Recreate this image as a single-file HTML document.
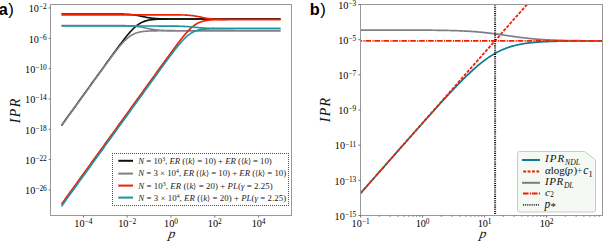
<!DOCTYPE html>
<html><head><meta charset="utf-8"><style>
html,body{margin:0;padding:0;background:#fff;}
body{width:603px;height:241px;overflow:hidden;position:relative;}
svg{position:absolute;left:0;top:0;}
.serif{font-family:"Liberation Serif",serif;}
.sans{font-family:"Liberation Sans",sans-serif;}
</style></head><body>
<svg width="603" height="241" viewBox="0 0 603 241">
<defs>
<clipPath id="ca"><rect x="50.5" y="4.5" width="241.0" height="211.0"/></clipPath>
<clipPath id="cb"><rect x="360.5" y="4.5" width="242.0" height="211.0"/></clipPath>
</defs>
<g class="sans" font-weight="bold" font-size="16.3" fill="#000">
<text x="-1.2" y="15">a<tspan font-weight="normal" font-size="16.8" dx="0.5">)</tspan></text>
<text x="309.8" y="14.8">b<tspan font-weight="normal" font-size="16.8" dx="0.5">)</tspan></text>
</g>
<g fill="none" stroke-width="1.65" stroke-linecap="butt" stroke-linejoin="round" clip-path="url(#ca)">
<path d="M61.50,13.99 L62.23,13.99 L62.96,13.99 L63.70,13.99 L64.43,13.99 L65.16,13.99 L65.89,13.99 L66.63,13.99 L67.36,13.99 L68.09,13.99 L68.82,13.99 L69.56,13.99 L70.29,13.99 L71.02,13.99 L71.75,13.99 L72.49,13.99 L73.22,13.99 L73.95,13.99 L74.68,13.99 L75.42,13.99 L76.15,13.99 L76.88,13.99 L77.61,13.99 L78.35,13.99 L79.08,13.99 L79.81,13.99 L80.54,13.99 L81.28,13.99 L82.01,13.99 L82.74,13.99 L83.47,13.99 L84.21,13.99 L84.94,13.99 L85.67,13.99 L86.40,13.99 L87.14,13.99 L87.87,13.99 L88.60,13.99 L89.33,13.99 L90.07,13.99 L90.80,13.99 L91.53,13.99 L92.26,13.99 L92.99,13.99 L93.73,13.99 L94.46,13.99 L95.19,13.99 L95.92,13.99 L96.66,13.99 L97.39,13.99 L98.12,13.99 L98.85,13.99 L99.59,13.99 L100.32,13.99 L101.05,13.99 L101.78,13.99 L102.52,13.99 L103.25,13.99 L103.98,13.99 L104.71,13.99 L105.45,14.00 L106.18,14.00 L106.91,14.00 L107.64,14.00 L108.38,14.00 L109.11,14.00 L109.84,14.00 L110.57,14.01 L111.31,14.01 L112.04,14.01 L112.77,14.02 L113.50,14.02 L114.24,14.02 L114.97,14.03 L115.70,14.03 L116.43,14.04 L117.17,14.05 L117.90,14.06 L118.63,14.07 L119.36,14.08 L120.10,14.09 L120.83,14.10 L121.56,14.12 L122.29,14.13 L123.03,14.15 L123.76,14.18 L124.49,14.20 L125.22,14.23 L125.95,14.26 L126.69,14.30 L127.42,14.34 L128.15,14.38 L128.88,14.43 L129.62,14.48 L130.35,14.54 L131.08,14.61 L131.81,14.68 L132.55,14.76 L133.28,14.85 L134.01,14.95 L134.74,15.05 L135.48,15.16 L136.21,15.27 L136.94,15.40 L137.67,15.53 L138.41,15.67 L139.14,15.81 L139.87,15.96 L140.60,16.11 L141.34,16.26 L142.07,16.42 L142.80,16.57 L143.53,16.73 L144.27,16.88 L145.00,17.04 L145.73,17.18 L146.46,17.32 L147.20,17.46 L147.93,17.59 L148.66,17.72 L149.39,17.83 L150.13,17.94 L150.86,18.04 L151.59,18.14 L152.32,18.22 L153.06,18.30 L153.79,18.38 L154.52,18.44 L155.25,18.50 L155.98,18.56 L156.72,18.60 L157.45,18.65 L158.18,18.69 L158.91,18.72 L159.65,18.75 L160.38,18.78 L161.11,18.81 L161.84,18.83 L162.58,18.85 L163.31,18.86 L164.04,18.88 L164.77,18.89 L165.51,18.90 L166.24,18.91 L166.97,18.92 L167.70,18.93 L168.44,18.94 L169.17,18.95 L169.90,18.95 L170.63,18.96 L171.37,18.96 L172.10,18.96 L172.83,18.97 L173.56,18.97 L174.30,18.97 L175.03,18.97 L175.76,18.98 L176.49,18.98 L177.23,18.98 L177.96,18.98 L178.69,18.98 L179.42,18.98 L180.16,18.98 L180.89,18.99 L181.62,18.99 L182.35,18.99 L183.09,18.99 L183.82,18.99 L184.55,18.99 L185.28,18.99 L186.02,18.99 L186.75,18.99 L187.48,18.99 L188.21,18.99 L188.94,18.99 L189.68,18.99 L190.41,18.99 L191.14,18.99 L191.87,18.99 L192.61,18.99 L193.34,18.99 L194.07,18.99 L194.80,18.99 L195.54,18.99 L196.27,18.99 L197.00,18.99 L197.73,18.99 L198.47,18.99 L199.20,18.99 L199.93,18.99 L200.66,18.99 L201.40,18.99 L202.13,18.99 L202.86,18.99 L203.59,18.99 L204.33,18.99 L205.06,18.99 L205.79,18.99 L206.52,18.99 L207.26,18.99 L207.99,18.99 L208.72,18.99 L209.45,18.99 L210.19,18.99 L210.92,18.99 L211.65,18.99 L212.38,18.99 L213.12,18.99 L213.85,18.99 L214.58,18.99 L215.31,18.99 L216.05,18.99 L216.78,18.99 L217.51,18.99 L218.24,18.99 L218.97,18.99 L219.71,18.99 L220.44,18.99 L221.17,18.99 L221.90,18.99 L222.64,18.99 L223.37,18.99 L224.10,18.99 L224.83,18.99 L225.57,18.99 L226.30,18.99 L227.03,18.99 L227.76,18.99 L228.50,18.99 L229.23,18.99 L229.96,18.99 L230.69,18.99 L231.43,18.99 L232.16,18.99 L232.89,18.99 L233.62,18.99 L234.36,18.99 L235.09,18.99 L235.82,18.99 L236.55,18.99 L237.29,18.99 L238.02,18.99 L238.75,18.99 L239.48,18.99 L240.22,18.99 L240.95,18.99 L241.68,18.99 L242.41,18.99 L243.15,18.99 L243.88,18.99 L244.61,18.99 L245.34,18.99 L246.08,18.99 L246.81,18.99 L247.54,18.99 L248.27,18.99 L249.01,18.99 L249.74,18.99 L250.47,18.99 L251.20,18.99 L251.93,18.99 L252.67,18.99 L253.40,18.99 L254.13,18.99 L254.86,18.99 L255.60,18.99 L256.33,18.99 L257.06,18.99 L257.79,18.99 L258.53,18.99 L259.26,18.99 L259.99,18.99 L260.72,18.99 L261.46,18.99 L262.19,18.99 L262.92,18.99 L263.65,18.99 L264.39,18.99 L265.12,18.99 L265.85,18.99 L266.58,18.99 L267.32,18.99 L268.05,18.99 L268.78,18.99 L269.51,18.99 L270.25,18.99 L270.98,18.99 L271.71,18.99 L272.44,18.99 L273.18,18.99 L273.91,18.99 L274.64,18.99 L275.37,18.99 L276.11,18.99 L276.84,18.99 L277.57,18.99 L278.30,18.99 L279.04,18.99 L279.77,18.99 L280.50,18.99" stroke="#111111"/>
<path d="M61.50,125.41 L62.23,124.40 L62.96,123.39 L63.70,122.37 L64.43,121.36 L65.16,120.34 L65.89,119.33 L66.63,118.32 L67.36,117.30 L68.09,116.29 L68.82,115.27 L69.56,114.26 L70.29,113.25 L71.02,112.23 L71.75,111.22 L72.49,110.20 L73.22,109.19 L73.95,108.18 L74.68,107.16 L75.42,106.15 L76.15,105.13 L76.88,104.12 L77.61,103.11 L78.35,102.09 L79.08,101.08 L79.81,100.06 L80.54,99.05 L81.28,98.04 L82.01,97.02 L82.74,96.01 L83.47,94.99 L84.21,93.98 L84.94,92.97 L85.67,91.95 L86.40,90.94 L87.14,89.92 L87.87,88.91 L88.60,87.90 L89.33,86.88 L90.07,85.87 L90.80,84.85 L91.53,83.84 L92.26,82.83 L92.99,81.81 L93.73,80.80 L94.46,79.79 L95.19,78.77 L95.92,77.76 L96.66,76.74 L97.39,75.73 L98.12,74.72 L98.85,73.71 L99.59,72.69 L100.32,71.68 L101.05,70.67 L101.78,69.65 L102.52,68.64 L103.25,67.63 L103.98,66.62 L104.71,65.61 L105.45,64.59 L106.18,63.58 L106.91,62.57 L107.64,61.56 L108.38,60.55 L109.11,59.55 L109.84,58.54 L110.57,57.53 L111.31,56.52 L112.04,55.52 L112.77,54.52 L113.50,53.51 L114.24,52.51 L114.97,51.51 L115.70,50.52 L116.43,49.52 L117.17,48.53 L117.90,47.54 L118.63,46.55 L119.36,45.57 L120.10,44.60 L120.83,43.62 L121.56,42.65 L122.29,41.69 L123.03,40.74 L123.76,39.79 L124.49,38.85 L125.22,37.93 L125.95,37.01 L126.69,36.10 L127.42,35.21 L128.15,34.33 L128.88,33.47 L129.62,32.62 L130.35,31.80 L131.08,30.99 L131.81,30.21 L132.55,29.45 L133.28,28.71 L134.01,28.01 L134.74,27.33 L135.48,26.68 L136.21,26.06 L136.94,25.47 L137.67,24.92 L138.41,24.40 L139.14,23.91 L139.87,23.45 L140.60,23.03 L141.34,22.64 L142.07,22.27 L142.80,21.94 L143.53,21.64 L144.27,21.36 L145.00,21.11 L145.73,20.88 L146.46,20.67 L147.20,20.49 L147.93,20.32 L148.66,20.17 L149.39,20.04 L150.13,19.92 L150.86,19.81 L151.59,19.72 L152.32,19.63 L153.06,19.56 L153.79,19.49 L154.52,19.43 L155.25,19.38 L155.98,19.33 L156.72,19.29 L157.45,19.26 L158.18,19.22 L158.91,19.20 L159.65,19.17 L160.38,19.15 L161.11,19.13 L161.84,19.11 L162.58,19.10 L163.31,19.09 L164.04,19.07 L164.77,19.06 L165.51,19.06 L166.24,19.05 L166.97,19.04 L167.70,19.03 L168.44,19.03 L169.17,19.02 L169.90,19.02 L170.63,19.02 L171.37,19.01 L172.10,19.01 L172.83,19.01 L173.56,19.01 L174.30,19.00 L175.03,19.00 L175.76,19.00 L176.49,19.00 L177.23,19.00 L177.96,19.00 L178.69,19.00 L179.42,19.00 L180.16,19.00 L180.89,19.00 L181.62,18.99 L182.35,18.99 L183.09,18.99 L183.82,18.99 L184.55,18.99 L185.28,18.99 L186.02,18.99 L186.75,18.99 L187.48,18.99 L188.21,18.99 L188.94,18.99 L189.68,18.99 L190.41,18.99 L191.14,18.99 L191.87,18.99 L192.61,18.99 L193.34,18.99 L194.07,18.99 L194.80,18.99 L195.54,18.99 L196.27,18.99 L197.00,18.99 L197.73,18.99 L198.47,18.99 L199.20,18.99 L199.93,18.99 L200.66,18.99 L201.40,18.99 L202.13,18.99 L202.86,18.99 L203.59,18.99 L204.33,18.99 L205.06,18.99 L205.79,18.99 L206.52,18.99 L207.26,18.99 L207.99,18.99 L208.72,18.99 L209.45,18.99 L210.19,18.99 L210.92,18.99 L211.65,18.99 L212.38,18.99 L213.12,18.99 L213.85,18.99 L214.58,18.99 L215.31,18.99 L216.05,18.99 L216.78,18.99 L217.51,18.99 L218.24,18.99 L218.97,18.99 L219.71,18.99 L220.44,18.99 L221.17,18.99 L221.90,18.99 L222.64,18.99 L223.37,18.99 L224.10,18.99 L224.83,18.99 L225.57,18.99 L226.30,18.99 L227.03,18.99 L227.76,18.99 L228.50,18.99 L229.23,18.99 L229.96,18.99 L230.69,18.99 L231.43,18.99 L232.16,18.99 L232.89,18.99 L233.62,18.99 L234.36,18.99 L235.09,18.99 L235.82,18.99 L236.55,18.99 L237.29,18.99 L238.02,18.99 L238.75,18.99 L239.48,18.99 L240.22,18.99 L240.95,18.99 L241.68,18.99 L242.41,18.99 L243.15,18.99 L243.88,18.99 L244.61,18.99 L245.34,18.99 L246.08,18.99 L246.81,18.99 L247.54,18.99 L248.27,18.99 L249.01,18.99 L249.74,18.99 L250.47,18.99 L251.20,18.99 L251.93,18.99 L252.67,18.99 L253.40,18.99 L254.13,18.99 L254.86,18.99 L255.60,18.99 L256.33,18.99 L257.06,18.99 L257.79,18.99 L258.53,18.99 L259.26,18.99 L259.99,18.99 L260.72,18.99 L261.46,18.99 L262.19,18.99 L262.92,18.99 L263.65,18.99 L264.39,18.99 L265.12,18.99 L265.85,18.99 L266.58,18.99 L267.32,18.99 L268.05,18.99 L268.78,18.99 L269.51,18.99 L270.25,18.99 L270.98,18.99 L271.71,18.99 L272.44,18.99 L273.18,18.99 L273.91,18.99 L274.64,18.99 L275.37,18.99 L276.11,18.99 L276.84,18.99 L277.57,18.99 L278.30,18.99 L279.04,18.99 L279.77,18.99 L280.50,18.99" stroke="#111111"/>
<path d="M61.50,25.51 L62.23,25.51 L62.96,25.51 L63.70,25.51 L64.43,25.51 L65.16,25.51 L65.89,25.51 L66.63,25.51 L67.36,25.51 L68.09,25.51 L68.82,25.51 L69.56,25.51 L70.29,25.51 L71.02,25.51 L71.75,25.51 L72.49,25.51 L73.22,25.51 L73.95,25.51 L74.68,25.51 L75.42,25.51 L76.15,25.51 L76.88,25.51 L77.61,25.51 L78.35,25.51 L79.08,25.51 L79.81,25.51 L80.54,25.51 L81.28,25.51 L82.01,25.51 L82.74,25.51 L83.47,25.51 L84.21,25.51 L84.94,25.51 L85.67,25.51 L86.40,25.51 L87.14,25.51 L87.87,25.51 L88.60,25.51 L89.33,25.51 L90.07,25.51 L90.80,25.51 L91.53,25.51 L92.26,25.51 L92.99,25.51 L93.73,25.51 L94.46,25.51 L95.19,25.51 L95.92,25.51 L96.66,25.51 L97.39,25.51 L98.12,25.51 L98.85,25.51 L99.59,25.51 L100.32,25.51 L101.05,25.51 L101.78,25.51 L102.52,25.51 L103.25,25.51 L103.98,25.51 L104.71,25.52 L105.45,25.52 L106.18,25.52 L106.91,25.52 L107.64,25.52 L108.38,25.52 L109.11,25.52 L109.84,25.52 L110.57,25.52 L111.31,25.53 L112.04,25.53 L112.77,25.53 L113.50,25.53 L114.24,25.54 L114.97,25.54 L115.70,25.54 L116.43,25.55 L117.17,25.55 L117.90,25.56 L118.63,25.57 L119.36,25.57 L120.10,25.58 L120.83,25.59 L121.56,25.60 L122.29,25.61 L123.03,25.63 L123.76,25.64 L124.49,25.66 L125.22,25.67 L125.95,25.70 L126.69,25.72 L127.42,25.74 L128.15,25.77 L128.88,25.81 L129.62,25.84 L130.35,25.88 L131.08,25.93 L131.81,25.97 L132.55,26.03 L133.28,26.09 L134.01,26.15 L134.74,26.22 L135.48,26.30 L136.21,26.39 L136.94,26.48 L137.67,26.57 L138.41,26.68 L139.14,26.79 L139.87,26.91 L140.60,27.03 L141.34,27.16 L142.07,27.30 L142.80,27.44 L143.53,27.58 L144.27,27.73 L145.00,27.88 L145.73,28.04 L146.46,28.19 L147.20,28.34 L147.93,28.49 L148.66,28.64 L149.39,28.79 L150.13,28.93 L150.86,29.07 L151.59,29.20 L152.32,29.32 L153.06,29.44 L153.79,29.55 L154.52,29.66 L155.25,29.76 L155.98,29.85 L156.72,29.94 L157.45,30.01 L158.18,30.09 L158.91,30.15 L159.65,30.21 L160.38,30.27 L161.11,30.32 L161.84,30.36 L162.58,30.40 L163.31,30.44 L164.04,30.47 L164.77,30.50 L165.51,30.53 L166.24,30.55 L166.97,30.57 L167.70,30.59 L168.44,30.61 L169.17,30.62 L169.90,30.64 L170.63,30.65 L171.37,30.66 L172.10,30.67 L172.83,30.68 L173.56,30.68 L174.30,30.69 L175.03,30.70 L175.76,30.70 L176.49,30.71 L177.23,30.71 L177.96,30.71 L178.69,30.72 L179.42,30.72 L180.16,30.72 L180.89,30.72 L181.62,30.73 L182.35,30.73 L183.09,30.73 L183.82,30.73 L184.55,30.73 L185.28,30.73 L186.02,30.73 L186.75,30.73 L187.48,30.73 L188.21,30.74 L188.94,30.74 L189.68,30.74 L190.41,30.74 L191.14,30.74 L191.87,30.74 L192.61,30.74 L193.34,30.74 L194.07,30.74 L194.80,30.74 L195.54,30.74 L196.27,30.74 L197.00,30.74 L197.73,30.74 L198.47,30.74 L199.20,30.74 L199.93,30.74 L200.66,30.74 L201.40,30.74 L202.13,30.74 L202.86,30.74 L203.59,30.74 L204.33,30.74 L205.06,30.74 L205.79,30.74 L206.52,30.74 L207.26,30.74 L207.99,30.74 L208.72,30.74 L209.45,30.74 L210.19,30.74 L210.92,30.74 L211.65,30.74 L212.38,30.74 L213.12,30.74 L213.85,30.74 L214.58,30.74 L215.31,30.74 L216.05,30.74 L216.78,30.74 L217.51,30.74 L218.24,30.74 L218.97,30.74 L219.71,30.74 L220.44,30.74 L221.17,30.74 L221.90,30.74 L222.64,30.74 L223.37,30.74 L224.10,30.74 L224.83,30.74 L225.57,30.74 L226.30,30.74 L227.03,30.74 L227.76,30.74 L228.50,30.74 L229.23,30.74 L229.96,30.74 L230.69,30.74 L231.43,30.74 L232.16,30.74 L232.89,30.74 L233.62,30.74 L234.36,30.74 L235.09,30.74 L235.82,30.74 L236.55,30.74 L237.29,30.74 L238.02,30.74 L238.75,30.74 L239.48,30.74 L240.22,30.74 L240.95,30.74 L241.68,30.74 L242.41,30.74 L243.15,30.74 L243.88,30.74 L244.61,30.74 L245.34,30.74 L246.08,30.74 L246.81,30.74 L247.54,30.74 L248.27,30.74 L249.01,30.74 L249.74,30.74 L250.47,30.74 L251.20,30.74 L251.93,30.74 L252.67,30.74 L253.40,30.74 L254.13,30.74 L254.86,30.74 L255.60,30.74 L256.33,30.74 L257.06,30.74 L257.79,30.74 L258.53,30.74 L259.26,30.74 L259.99,30.74 L260.72,30.74 L261.46,30.74 L262.19,30.74 L262.92,30.74 L263.65,30.74 L264.39,30.74 L265.12,30.74 L265.85,30.74 L266.58,30.74 L267.32,30.74 L268.05,30.74 L268.78,30.74 L269.51,30.74 L270.25,30.74 L270.98,30.74 L271.71,30.74 L272.44,30.74 L273.18,30.74 L273.91,30.74 L274.64,30.74 L275.37,30.74 L276.11,30.74 L276.84,30.74 L277.57,30.74 L278.30,30.74 L279.04,30.74 L279.77,30.74 L280.50,30.74" stroke="#848088"/>
<path d="M61.50,125.72 L62.23,124.70 L62.96,123.69 L63.70,122.68 L64.43,121.66 L65.16,120.65 L65.89,119.63 L66.63,118.62 L67.36,117.61 L68.09,116.59 L68.82,115.58 L69.56,114.56 L70.29,113.55 L71.02,112.54 L71.75,111.52 L72.49,110.51 L73.22,109.49 L73.95,108.48 L74.68,107.46 L75.42,106.45 L76.15,105.44 L76.88,104.42 L77.61,103.41 L78.35,102.40 L79.08,101.38 L79.81,100.37 L80.54,99.35 L81.28,98.34 L82.01,97.33 L82.74,96.31 L83.47,95.30 L84.21,94.28 L84.94,93.27 L85.67,92.26 L86.40,91.24 L87.14,90.23 L87.87,89.22 L88.60,88.20 L89.33,87.19 L90.07,86.18 L90.80,85.16 L91.53,84.15 L92.26,83.14 L92.99,82.12 L93.73,81.11 L94.46,80.10 L95.19,79.09 L95.92,78.08 L96.66,77.06 L97.39,76.05 L98.12,75.04 L98.85,74.03 L99.59,73.02 L100.32,72.01 L101.05,71.01 L101.78,70.00 L102.52,68.99 L103.25,67.98 L103.98,66.98 L104.71,65.98 L105.45,64.97 L106.18,63.97 L106.91,62.98 L107.64,61.98 L108.38,60.99 L109.11,59.99 L109.84,59.01 L110.57,58.02 L111.31,57.04 L112.04,56.06 L112.77,55.09 L113.50,54.13 L114.24,53.17 L114.97,52.22 L115.70,51.27 L116.43,50.34 L117.17,49.41 L117.90,48.49 L118.63,47.59 L119.36,46.70 L120.10,45.83 L120.83,44.97 L121.56,44.13 L122.29,43.31 L123.03,42.51 L123.76,41.74 L124.49,40.98 L125.22,40.26 L125.95,39.56 L126.69,38.89 L127.42,38.25 L128.15,37.64 L128.88,37.06 L129.62,36.52 L130.35,36.00 L131.08,35.52 L131.81,35.08 L132.55,34.66 L133.28,34.28 L134.01,33.92 L134.74,33.60 L135.48,33.30 L136.21,33.03 L136.94,32.79 L137.67,32.57 L138.41,32.37 L139.14,32.19 L139.87,32.02 L140.60,31.88 L141.34,31.75 L142.07,31.63 L142.80,31.53 L143.53,31.44 L144.27,31.36 L145.00,31.28 L145.73,31.22 L146.46,31.16 L147.20,31.11 L147.93,31.07 L148.66,31.03 L149.39,31.00 L150.13,30.96 L150.86,30.94 L151.59,30.91 L152.32,30.89 L153.06,30.87 L153.79,30.86 L154.52,30.84 L155.25,30.83 L155.98,30.82 L156.72,30.81 L157.45,30.80 L158.18,30.79 L158.91,30.79 L159.65,30.78 L160.38,30.78 L161.11,30.77 L161.84,30.77 L162.58,30.77 L163.31,30.76 L164.04,30.76 L164.77,30.76 L165.51,30.76 L166.24,30.75 L166.97,30.75 L167.70,30.75 L168.44,30.75 L169.17,30.75 L169.90,30.75 L170.63,30.75 L171.37,30.75 L172.10,30.74 L172.83,30.74 L173.56,30.74 L174.30,30.74 L175.03,30.74 L175.76,30.74 L176.49,30.74 L177.23,30.74 L177.96,30.74 L178.69,30.74 L179.42,30.74 L180.16,30.74 L180.89,30.74 L181.62,30.74 L182.35,30.74 L183.09,30.74 L183.82,30.74 L184.55,30.74 L185.28,30.74 L186.02,30.74 L186.75,30.74 L187.48,30.74 L188.21,30.74 L188.94,30.74 L189.68,30.74 L190.41,30.74 L191.14,30.74 L191.87,30.74 L192.61,30.74 L193.34,30.74 L194.07,30.74 L194.80,30.74 L195.54,30.74 L196.27,30.74 L197.00,30.74 L197.73,30.74 L198.47,30.74 L199.20,30.74 L199.93,30.74 L200.66,30.74 L201.40,30.74 L202.13,30.74 L202.86,30.74 L203.59,30.74 L204.33,30.74 L205.06,30.74 L205.79,30.74 L206.52,30.74 L207.26,30.74 L207.99,30.74 L208.72,30.74 L209.45,30.74 L210.19,30.74 L210.92,30.74 L211.65,30.74 L212.38,30.74 L213.12,30.74 L213.85,30.74 L214.58,30.74 L215.31,30.74 L216.05,30.74 L216.78,30.74 L217.51,30.74 L218.24,30.74 L218.97,30.74 L219.71,30.74 L220.44,30.74 L221.17,30.74 L221.90,30.74 L222.64,30.74 L223.37,30.74 L224.10,30.74 L224.83,30.74 L225.57,30.74 L226.30,30.74 L227.03,30.74 L227.76,30.74 L228.50,30.74 L229.23,30.74 L229.96,30.74 L230.69,30.74 L231.43,30.74 L232.16,30.74 L232.89,30.74 L233.62,30.74 L234.36,30.74 L235.09,30.74 L235.82,30.74 L236.55,30.74 L237.29,30.74 L238.02,30.74 L238.75,30.74 L239.48,30.74 L240.22,30.74 L240.95,30.74 L241.68,30.74 L242.41,30.74 L243.15,30.74 L243.88,30.74 L244.61,30.74 L245.34,30.74 L246.08,30.74 L246.81,30.74 L247.54,30.74 L248.27,30.74 L249.01,30.74 L249.74,30.74 L250.47,30.74 L251.20,30.74 L251.93,30.74 L252.67,30.74 L253.40,30.74 L254.13,30.74 L254.86,30.74 L255.60,30.74 L256.33,30.74 L257.06,30.74 L257.79,30.74 L258.53,30.74 L259.26,30.74 L259.99,30.74 L260.72,30.74 L261.46,30.74 L262.19,30.74 L262.92,30.74 L263.65,30.74 L264.39,30.74 L265.12,30.74 L265.85,30.74 L266.58,30.74 L267.32,30.74 L268.05,30.74 L268.78,30.74 L269.51,30.74 L270.25,30.74 L270.98,30.74 L271.71,30.74 L272.44,30.74 L273.18,30.74 L273.91,30.74 L274.64,30.74 L275.37,30.74 L276.11,30.74 L276.84,30.74 L277.57,30.74 L278.30,30.74 L279.04,30.74 L279.77,30.74 L280.50,30.74" stroke="#848088"/>
<path d="M61.50,14.82 L62.23,14.82 L62.96,14.82 L63.70,14.82 L64.43,14.82 L65.16,14.82 L65.89,14.82 L66.63,14.82 L67.36,14.82 L68.09,14.82 L68.82,14.82 L69.56,14.82 L70.29,14.82 L71.02,14.82 L71.75,14.82 L72.49,14.82 L73.22,14.82 L73.95,14.82 L74.68,14.82 L75.42,14.82 L76.15,14.82 L76.88,14.82 L77.61,14.82 L78.35,14.82 L79.08,14.82 L79.81,14.82 L80.54,14.82 L81.28,14.82 L82.01,14.82 L82.74,14.82 L83.47,14.82 L84.21,14.82 L84.94,14.82 L85.67,14.82 L86.40,14.82 L87.14,14.82 L87.87,14.82 L88.60,14.82 L89.33,14.82 L90.07,14.82 L90.80,14.82 L91.53,14.82 L92.26,14.82 L92.99,14.82 L93.73,14.82 L94.46,14.82 L95.19,14.82 L95.92,14.82 L96.66,14.82 L97.39,14.82 L98.12,14.82 L98.85,14.82 L99.59,14.82 L100.32,14.82 L101.05,14.82 L101.78,14.82 L102.52,14.82 L103.25,14.82 L103.98,14.82 L104.71,14.82 L105.45,14.82 L106.18,14.82 L106.91,14.82 L107.64,14.82 L108.38,14.82 L109.11,14.82 L109.84,14.82 L110.57,14.82 L111.31,14.82 L112.04,14.82 L112.77,14.82 L113.50,14.82 L114.24,14.82 L114.97,14.82 L115.70,14.82 L116.43,14.82 L117.17,14.82 L117.90,14.82 L118.63,14.82 L119.36,14.82 L120.10,14.82 L120.83,14.82 L121.56,14.82 L122.29,14.82 L123.03,14.82 L123.76,14.82 L124.49,14.82 L125.22,14.82 L125.95,14.82 L126.69,14.82 L127.42,14.82 L128.15,14.82 L128.88,14.82 L129.62,14.82 L130.35,14.82 L131.08,14.82 L131.81,14.82 L132.55,14.82 L133.28,14.82 L134.01,14.82 L134.74,14.82 L135.48,14.82 L136.21,14.82 L136.94,14.82 L137.67,14.82 L138.41,14.82 L139.14,14.82 L139.87,14.82 L140.60,14.82 L141.34,14.82 L142.07,14.82 L142.80,14.82 L143.53,14.82 L144.27,14.82 L145.00,14.82 L145.73,14.82 L146.46,14.82 L147.20,14.82 L147.93,14.82 L148.66,14.82 L149.39,14.82 L150.13,14.82 L150.86,14.82 L151.59,14.82 L152.32,14.82 L153.06,14.82 L153.79,14.82 L154.52,14.82 L155.25,14.82 L155.98,14.82 L156.72,14.82 L157.45,14.82 L158.18,14.82 L158.91,14.82 L159.65,14.82 L160.38,14.82 L161.11,14.82 L161.84,14.83 L162.58,14.83 L163.31,14.83 L164.04,14.83 L164.77,14.83 L165.51,14.83 L166.24,14.83 L166.97,14.83 L167.70,14.83 L168.44,14.83 L169.17,14.83 L169.90,14.84 L170.63,14.84 L171.37,14.84 L172.10,14.84 L172.83,14.85 L173.56,14.85 L174.30,14.85 L175.03,14.86 L175.76,14.86 L176.49,14.87 L177.23,14.88 L177.96,14.89 L178.69,14.89 L179.42,14.91 L180.16,14.92 L180.89,14.93 L181.62,14.95 L182.35,14.97 L183.09,14.99 L183.82,15.01 L184.55,15.04 L185.28,15.06 L186.02,15.10 L186.75,15.14 L187.48,15.18 L188.21,15.23 L188.94,15.28 L189.68,15.34 L190.41,15.41 L191.14,15.48 L191.87,15.56 L192.61,15.65 L193.34,15.75 L194.07,15.85 L194.80,15.96 L195.54,16.08 L196.27,16.21 L197.00,16.34 L197.73,16.48 L198.47,16.63 L199.20,16.78 L199.93,16.93 L200.66,17.09 L201.40,17.25 L202.13,17.40 L202.86,17.55 L203.59,17.71 L204.33,17.85 L205.06,17.99 L205.79,18.13 L206.52,18.25 L207.26,18.38 L207.99,18.49 L208.72,18.59 L209.45,18.69 L210.19,18.78 L210.92,18.86 L211.65,18.93 L212.38,19.00 L213.12,19.06 L213.85,19.11 L214.58,19.16 L215.31,19.20 L216.05,19.24 L216.78,19.28 L217.51,19.31 L218.24,19.33 L218.97,19.36 L219.71,19.38 L220.44,19.40 L221.17,19.41 L221.90,19.43 L222.64,19.44 L223.37,19.45 L224.10,19.46 L224.83,19.47 L225.57,19.47 L226.30,19.48 L227.03,19.48 L227.76,19.49 L228.50,19.49 L229.23,19.50 L229.96,19.50 L230.69,19.50 L231.43,19.51 L232.16,19.51 L232.89,19.51 L233.62,19.51 L234.36,19.51 L235.09,19.51 L235.82,19.51 L236.55,19.52 L237.29,19.52 L238.02,19.52 L238.75,19.52 L239.48,19.52 L240.22,19.52 L240.95,19.52 L241.68,19.52 L242.41,19.52 L243.15,19.52 L243.88,19.52 L244.61,19.52 L245.34,19.52 L246.08,19.52 L246.81,19.52 L247.54,19.52 L248.27,19.52 L249.01,19.52 L249.74,19.52 L250.47,19.52 L251.20,19.52 L251.93,19.52 L252.67,19.52 L253.40,19.52 L254.13,19.52 L254.86,19.52 L255.60,19.52 L256.33,19.52 L257.06,19.52 L257.79,19.52 L258.53,19.52 L259.26,19.52 L259.99,19.52 L260.72,19.52 L261.46,19.52 L262.19,19.52 L262.92,19.52 L263.65,19.52 L264.39,19.52 L265.12,19.52 L265.85,19.52 L266.58,19.52 L267.32,19.52 L268.05,19.52 L268.78,19.52 L269.51,19.52 L270.25,19.52 L270.98,19.52 L271.71,19.52 L272.44,19.52 L273.18,19.52 L273.91,19.52 L274.64,19.52 L275.37,19.52 L276.11,19.52 L276.84,19.52 L277.57,19.52 L278.30,19.52 L279.04,19.52 L279.77,19.52 L280.50,19.52" stroke="#f02000"/>
<path d="M61.50,204.17 L62.23,203.16 L62.96,202.14 L63.70,201.13 L64.43,200.11 L65.16,199.10 L65.89,198.09 L66.63,197.07 L67.36,196.06 L68.09,195.04 L68.82,194.03 L69.56,193.02 L70.29,192.00 L71.02,190.99 L71.75,189.97 L72.49,188.96 L73.22,187.95 L73.95,186.93 L74.68,185.92 L75.42,184.90 L76.15,183.89 L76.88,182.88 L77.61,181.86 L78.35,180.85 L79.08,179.83 L79.81,178.82 L80.54,177.81 L81.28,176.79 L82.01,175.78 L82.74,174.76 L83.47,173.75 L84.21,172.73 L84.94,171.72 L85.67,170.71 L86.40,169.69 L87.14,168.68 L87.87,167.66 L88.60,166.65 L89.33,165.64 L90.07,164.62 L90.80,163.61 L91.53,162.59 L92.26,161.58 L92.99,160.57 L93.73,159.55 L94.46,158.54 L95.19,157.52 L95.92,156.51 L96.66,155.50 L97.39,154.48 L98.12,153.47 L98.85,152.45 L99.59,151.44 L100.32,150.43 L101.05,149.41 L101.78,148.40 L102.52,147.38 L103.25,146.37 L103.98,145.36 L104.71,144.34 L105.45,143.33 L106.18,142.31 L106.91,141.30 L107.64,140.29 L108.38,139.27 L109.11,138.26 L109.84,137.24 L110.57,136.23 L111.31,135.22 L112.04,134.20 L112.77,133.19 L113.50,132.17 L114.24,131.16 L114.97,130.14 L115.70,129.13 L116.43,128.12 L117.17,127.10 L117.90,126.09 L118.63,125.07 L119.36,124.06 L120.10,123.05 L120.83,122.03 L121.56,121.02 L122.29,120.00 L123.03,118.99 L123.76,117.98 L124.49,116.96 L125.22,115.95 L125.95,114.93 L126.69,113.92 L127.42,112.91 L128.15,111.89 L128.88,110.88 L129.62,109.86 L130.35,108.85 L131.08,107.84 L131.81,106.82 L132.55,105.81 L133.28,104.79 L134.01,103.78 L134.74,102.77 L135.48,101.75 L136.21,100.74 L136.94,99.72 L137.67,98.71 L138.41,97.70 L139.14,96.68 L139.87,95.67 L140.60,94.65 L141.34,93.64 L142.07,92.63 L142.80,91.61 L143.53,90.60 L144.27,89.58 L145.00,88.57 L145.73,87.56 L146.46,86.54 L147.20,85.53 L147.93,84.51 L148.66,83.50 L149.39,82.49 L150.13,81.47 L150.86,80.46 L151.59,79.45 L152.32,78.43 L153.06,77.42 L153.79,76.41 L154.52,75.39 L155.25,74.38 L155.98,73.37 L156.72,72.35 L157.45,71.34 L158.18,70.33 L158.91,69.32 L159.65,68.30 L160.38,67.29 L161.11,66.28 L161.84,65.27 L162.58,64.26 L163.31,63.25 L164.04,62.24 L164.77,61.23 L165.51,60.22 L166.24,59.21 L166.97,58.20 L167.70,57.20 L168.44,56.19 L169.17,55.19 L169.90,54.19 L170.63,53.19 L171.37,52.19 L172.10,51.19 L172.83,50.19 L173.56,49.20 L174.30,48.21 L175.03,47.23 L175.76,46.24 L176.49,45.26 L177.23,44.29 L177.96,43.32 L178.69,42.36 L179.42,41.40 L180.16,40.46 L180.89,39.52 L181.62,38.59 L182.35,37.67 L183.09,36.76 L183.82,35.86 L184.55,34.98 L185.28,34.12 L186.02,33.27 L186.75,32.44 L187.48,31.63 L188.21,30.85 L188.94,30.08 L189.68,29.35 L190.41,28.64 L191.14,27.95 L191.87,27.30 L192.61,26.68 L193.34,26.09 L194.07,25.53 L194.80,25.00 L195.54,24.51 L196.27,24.05 L197.00,23.62 L197.73,23.22 L198.47,22.85 L199.20,22.52 L199.93,22.21 L200.66,21.93 L201.40,21.67 L202.13,21.44 L202.86,21.23 L203.59,21.04 L204.33,20.87 L205.06,20.72 L205.79,20.59 L206.52,20.46 L207.26,20.35 L207.99,20.26 L208.72,20.17 L209.45,20.10 L210.19,20.03 L210.92,19.97 L211.65,19.92 L212.38,19.87 L213.12,19.83 L213.85,19.79 L214.58,19.76 L215.31,19.73 L216.05,19.71 L216.78,19.68 L217.51,19.66 L218.24,19.65 L218.97,19.63 L219.71,19.62 L220.44,19.61 L221.17,19.60 L221.90,19.59 L222.64,19.58 L223.37,19.57 L224.10,19.57 L224.83,19.56 L225.57,19.56 L226.30,19.55 L227.03,19.55 L227.76,19.55 L228.50,19.54 L229.23,19.54 L229.96,19.54 L230.69,19.54 L231.43,19.53 L232.16,19.53 L232.89,19.53 L233.62,19.53 L234.36,19.53 L235.09,19.53 L235.82,19.53 L236.55,19.53 L237.29,19.53 L238.02,19.53 L238.75,19.52 L239.48,19.52 L240.22,19.52 L240.95,19.52 L241.68,19.52 L242.41,19.52 L243.15,19.52 L243.88,19.52 L244.61,19.52 L245.34,19.52 L246.08,19.52 L246.81,19.52 L247.54,19.52 L248.27,19.52 L249.01,19.52 L249.74,19.52 L250.47,19.52 L251.20,19.52 L251.93,19.52 L252.67,19.52 L253.40,19.52 L254.13,19.52 L254.86,19.52 L255.60,19.52 L256.33,19.52 L257.06,19.52 L257.79,19.52 L258.53,19.52 L259.26,19.52 L259.99,19.52 L260.72,19.52 L261.46,19.52 L262.19,19.52 L262.92,19.52 L263.65,19.52 L264.39,19.52 L265.12,19.52 L265.85,19.52 L266.58,19.52 L267.32,19.52 L268.05,19.52 L268.78,19.52 L269.51,19.52 L270.25,19.52 L270.98,19.52 L271.71,19.52 L272.44,19.52 L273.18,19.52 L273.91,19.52 L274.64,19.52 L275.37,19.52 L276.11,19.52 L276.84,19.52 L277.57,19.52 L278.30,19.52 L279.04,19.52 L279.77,19.52 L280.50,19.52" stroke="#f02000"/>
<path d="M61.50,26.04 L62.23,26.04 L62.96,26.04 L63.70,26.04 L64.43,26.04 L65.16,26.04 L65.89,26.04 L66.63,26.04 L67.36,26.04 L68.09,26.04 L68.82,26.04 L69.56,26.04 L70.29,26.04 L71.02,26.04 L71.75,26.04 L72.49,26.04 L73.22,26.04 L73.95,26.04 L74.68,26.04 L75.42,26.04 L76.15,26.04 L76.88,26.04 L77.61,26.04 L78.35,26.04 L79.08,26.04 L79.81,26.04 L80.54,26.04 L81.28,26.04 L82.01,26.04 L82.74,26.04 L83.47,26.04 L84.21,26.04 L84.94,26.04 L85.67,26.04 L86.40,26.04 L87.14,26.04 L87.87,26.04 L88.60,26.04 L89.33,26.04 L90.07,26.04 L90.80,26.04 L91.53,26.04 L92.26,26.04 L92.99,26.04 L93.73,26.04 L94.46,26.04 L95.19,26.04 L95.92,26.04 L96.66,26.04 L97.39,26.04 L98.12,26.04 L98.85,26.04 L99.59,26.04 L100.32,26.04 L101.05,26.04 L101.78,26.04 L102.52,26.04 L103.25,26.04 L103.98,26.04 L104.71,26.04 L105.45,26.04 L106.18,26.04 L106.91,26.04 L107.64,26.04 L108.38,26.04 L109.11,26.04 L109.84,26.04 L110.57,26.04 L111.31,26.04 L112.04,26.04 L112.77,26.04 L113.50,26.04 L114.24,26.04 L114.97,26.04 L115.70,26.04 L116.43,26.04 L117.17,26.04 L117.90,26.04 L118.63,26.04 L119.36,26.04 L120.10,26.04 L120.83,26.04 L121.56,26.04 L122.29,26.04 L123.03,26.04 L123.76,26.04 L124.49,26.04 L125.22,26.04 L125.95,26.04 L126.69,26.04 L127.42,26.04 L128.15,26.04 L128.88,26.04 L129.62,26.04 L130.35,26.04 L131.08,26.04 L131.81,26.04 L132.55,26.04 L133.28,26.04 L134.01,26.04 L134.74,26.04 L135.48,26.04 L136.21,26.04 L136.94,26.04 L137.67,26.04 L138.41,26.04 L139.14,26.04 L139.87,26.04 L140.60,26.04 L141.34,26.04 L142.07,26.04 L142.80,26.04 L143.53,26.04 L144.27,26.04 L145.00,26.04 L145.73,26.04 L146.46,26.04 L147.20,26.04 L147.93,26.04 L148.66,26.04 L149.39,26.04 L150.13,26.04 L150.86,26.04 L151.59,26.04 L152.32,26.04 L153.06,26.04 L153.79,26.04 L154.52,26.04 L155.25,26.04 L155.98,26.04 L156.72,26.04 L157.45,26.04 L158.18,26.05 L158.91,26.05 L159.65,26.05 L160.38,26.05 L161.11,26.05 L161.84,26.05 L162.58,26.05 L163.31,26.05 L164.04,26.05 L164.77,26.06 L165.51,26.06 L166.24,26.06 L166.97,26.06 L167.70,26.07 L168.44,26.07 L169.17,26.07 L169.90,26.08 L170.63,26.08 L171.37,26.09 L172.10,26.09 L172.83,26.10 L173.56,26.11 L174.30,26.11 L175.03,26.12 L175.76,26.13 L176.49,26.15 L177.23,26.16 L177.96,26.17 L178.69,26.19 L179.42,26.21 L180.16,26.23 L180.89,26.25 L181.62,26.28 L182.35,26.30 L183.09,26.34 L183.82,26.37 L184.55,26.41 L185.28,26.45 L186.02,26.49 L186.75,26.54 L187.48,26.59 L188.21,26.64 L188.94,26.70 L189.68,26.76 L190.41,26.82 L191.14,26.89 L191.87,26.96 L192.61,27.03 L193.34,27.10 L194.07,27.18 L194.80,27.25 L195.54,27.33 L196.27,27.41 L197.00,27.48 L197.73,27.55 L198.47,27.63 L199.20,27.70 L199.93,27.76 L200.66,27.83 L201.40,27.89 L202.13,27.94 L202.86,28.00 L203.59,28.05 L204.33,28.10 L205.06,28.14 L205.79,28.18 L206.52,28.21 L207.26,28.25 L207.99,28.28 L208.72,28.31 L209.45,28.33 L210.19,28.35 L210.92,28.37 L211.65,28.39 L212.38,28.41 L213.12,28.42 L213.85,28.44 L214.58,28.45 L215.31,28.46 L216.05,28.47 L216.78,28.48 L217.51,28.48 L218.24,28.49 L218.97,28.50 L219.71,28.50 L220.44,28.51 L221.17,28.51 L221.90,28.51 L222.64,28.52 L223.37,28.52 L224.10,28.52 L224.83,28.52 L225.57,28.53 L226.30,28.53 L227.03,28.53 L227.76,28.53 L228.50,28.53 L229.23,28.53 L229.96,28.53 L230.69,28.54 L231.43,28.54 L232.16,28.54 L232.89,28.54 L233.62,28.54 L234.36,28.54 L235.09,28.54 L235.82,28.54 L236.55,28.54 L237.29,28.54 L238.02,28.54 L238.75,28.54 L239.48,28.54 L240.22,28.54 L240.95,28.54 L241.68,28.54 L242.41,28.54 L243.15,28.54 L243.88,28.54 L244.61,28.54 L245.34,28.54 L246.08,28.54 L246.81,28.54 L247.54,28.54 L248.27,28.54 L249.01,28.54 L249.74,28.54 L250.47,28.54 L251.20,28.54 L251.93,28.54 L252.67,28.54 L253.40,28.54 L254.13,28.54 L254.86,28.54 L255.60,28.54 L256.33,28.54 L257.06,28.54 L257.79,28.54 L258.53,28.54 L259.26,28.54 L259.99,28.54 L260.72,28.54 L261.46,28.54 L262.19,28.54 L262.92,28.54 L263.65,28.54 L264.39,28.54 L265.12,28.54 L265.85,28.54 L266.58,28.54 L267.32,28.54 L268.05,28.54 L268.78,28.54 L269.51,28.54 L270.25,28.54 L270.98,28.54 L271.71,28.54 L272.44,28.54 L273.18,28.54 L273.91,28.54 L274.64,28.54 L275.37,28.54 L276.11,28.54 L276.84,28.54 L277.57,28.54 L278.30,28.54 L279.04,28.54 L279.77,28.54 L280.50,28.54" stroke="#1a93a3"/>
<path d="M61.50,206.22 L62.23,205.20 L62.96,204.19 L63.70,203.17 L64.43,202.16 L65.16,201.15 L65.89,200.13 L66.63,199.12 L67.36,198.10 L68.09,197.09 L68.82,196.08 L69.56,195.06 L70.29,194.05 L71.02,193.03 L71.75,192.02 L72.49,191.01 L73.22,189.99 L73.95,188.98 L74.68,187.96 L75.42,186.95 L76.15,185.94 L76.88,184.92 L77.61,183.91 L78.35,182.89 L79.08,181.88 L79.81,180.87 L80.54,179.85 L81.28,178.84 L82.01,177.82 L82.74,176.81 L83.47,175.80 L84.21,174.78 L84.94,173.77 L85.67,172.75 L86.40,171.74 L87.14,170.73 L87.87,169.71 L88.60,168.70 L89.33,167.68 L90.07,166.67 L90.80,165.66 L91.53,164.64 L92.26,163.63 L92.99,162.61 L93.73,161.60 L94.46,160.58 L95.19,159.57 L95.92,158.56 L96.66,157.54 L97.39,156.53 L98.12,155.51 L98.85,154.50 L99.59,153.49 L100.32,152.47 L101.05,151.46 L101.78,150.44 L102.52,149.43 L103.25,148.42 L103.98,147.40 L104.71,146.39 L105.45,145.37 L106.18,144.36 L106.91,143.35 L107.64,142.33 L108.38,141.32 L109.11,140.30 L109.84,139.29 L110.57,138.28 L111.31,137.26 L112.04,136.25 L112.77,135.23 L113.50,134.22 L114.24,133.21 L114.97,132.19 L115.70,131.18 L116.43,130.16 L117.17,129.15 L117.90,128.14 L118.63,127.12 L119.36,126.11 L120.10,125.09 L120.83,124.08 L121.56,123.07 L122.29,122.05 L123.03,121.04 L123.76,120.02 L124.49,119.01 L125.22,118.00 L125.95,116.98 L126.69,115.97 L127.42,114.95 L128.15,113.94 L128.88,112.92 L129.62,111.91 L130.35,110.90 L131.08,109.88 L131.81,108.87 L132.55,107.85 L133.28,106.84 L134.01,105.83 L134.74,104.81 L135.48,103.80 L136.21,102.78 L136.94,101.77 L137.67,100.76 L138.41,99.74 L139.14,98.73 L139.87,97.72 L140.60,96.70 L141.34,95.69 L142.07,94.67 L142.80,93.66 L143.53,92.65 L144.27,91.63 L145.00,90.62 L145.73,89.60 L146.46,88.59 L147.20,87.58 L147.93,86.56 L148.66,85.55 L149.39,84.54 L150.13,83.52 L150.86,82.51 L151.59,81.50 L152.32,80.49 L153.06,79.47 L153.79,78.46 L154.52,77.45 L155.25,76.44 L155.98,75.42 L156.72,74.41 L157.45,73.40 L158.18,72.39 L158.91,71.38 L159.65,70.37 L160.38,69.36 L161.11,68.36 L161.84,67.35 L162.58,66.34 L163.31,65.34 L164.04,64.33 L164.77,63.33 L165.51,62.33 L166.24,61.33 L166.97,60.33 L167.70,59.34 L168.44,58.34 L169.17,57.35 L169.90,56.37 L170.63,55.38 L171.37,54.40 L172.10,53.43 L172.83,52.46 L173.56,51.50 L174.30,50.54 L175.03,49.59 L175.76,48.65 L176.49,47.72 L177.23,46.80 L177.96,45.89 L178.69,44.99 L179.42,44.11 L180.16,43.24 L180.89,42.40 L181.62,41.56 L182.35,40.75 L183.09,39.96 L183.82,39.20 L184.55,38.46 L185.28,37.74 L186.02,37.06 L186.75,36.40 L187.48,35.77 L188.21,35.18 L188.94,34.61 L189.68,34.08 L190.41,33.59 L191.14,33.12 L191.87,32.69 L192.61,32.29 L193.34,31.92 L194.07,31.58 L194.80,31.27 L195.54,30.98 L196.27,30.72 L197.00,30.49 L197.73,30.28 L198.47,30.09 L199.20,29.91 L199.93,29.76 L200.66,29.62 L201.40,29.50 L202.13,29.39 L202.86,29.29 L203.59,29.20 L204.33,29.13 L205.06,29.06 L205.79,29.00 L206.52,28.94 L207.26,28.89 L207.99,28.85 L208.72,28.82 L209.45,28.78 L210.19,28.75 L210.92,28.73 L211.65,28.71 L212.38,28.69 L213.12,28.67 L213.85,28.65 L214.58,28.64 L215.31,28.63 L216.05,28.62 L216.78,28.61 L217.51,28.60 L218.24,28.59 L218.97,28.59 L219.71,28.58 L220.44,28.58 L221.17,28.57 L221.90,28.57 L222.64,28.57 L223.37,28.56 L224.10,28.56 L224.83,28.56 L225.57,28.56 L226.30,28.55 L227.03,28.55 L227.76,28.55 L228.50,28.55 L229.23,28.55 L229.96,28.55 L230.69,28.55 L231.43,28.55 L232.16,28.55 L232.89,28.55 L233.62,28.55 L234.36,28.54 L235.09,28.54 L235.82,28.54 L236.55,28.54 L237.29,28.54 L238.02,28.54 L238.75,28.54 L239.48,28.54 L240.22,28.54 L240.95,28.54 L241.68,28.54 L242.41,28.54 L243.15,28.54 L243.88,28.54 L244.61,28.54 L245.34,28.54 L246.08,28.54 L246.81,28.54 L247.54,28.54 L248.27,28.54 L249.01,28.54 L249.74,28.54 L250.47,28.54 L251.20,28.54 L251.93,28.54 L252.67,28.54 L253.40,28.54 L254.13,28.54 L254.86,28.54 L255.60,28.54 L256.33,28.54 L257.06,28.54 L257.79,28.54 L258.53,28.54 L259.26,28.54 L259.99,28.54 L260.72,28.54 L261.46,28.54 L262.19,28.54 L262.92,28.54 L263.65,28.54 L264.39,28.54 L265.12,28.54 L265.85,28.54 L266.58,28.54 L267.32,28.54 L268.05,28.54 L268.78,28.54 L269.51,28.54 L270.25,28.54 L270.98,28.54 L271.71,28.54 L272.44,28.54 L273.18,28.54 L273.91,28.54 L274.64,28.54 L275.37,28.54 L276.11,28.54 L276.84,28.54 L277.57,28.54 L278.30,28.54 L279.04,28.54 L279.77,28.54 L280.50,28.54" stroke="#1a93a3"/>
</g>
<g fill="none" stroke-linecap="butt" stroke-linejoin="round" clip-path="url(#cb)">
<path d="M360.60,193.24 L361.43,192.30 L362.26,191.36 L363.09,190.42 L363.92,189.48 L364.75,188.54 L365.58,187.60 L366.41,186.66 L367.24,185.72 L368.06,184.77 L368.89,183.83 L369.72,182.89 L370.55,181.95 L371.38,181.01 L372.21,180.07 L373.04,179.13 L373.87,178.19 L374.70,177.25 L375.53,176.31 L376.36,175.37 L377.19,174.43 L378.02,173.49 L378.85,172.55 L379.68,171.61 L380.51,170.67 L381.34,169.73 L382.17,168.79 L382.99,167.85 L383.82,166.91 L384.65,165.97 L385.48,165.03 L386.31,164.09 L387.14,163.15 L387.97,162.21 L388.80,161.27 L389.63,160.33 L390.46,159.39 L391.29,158.45 L392.12,157.51 L392.95,156.57 L393.78,155.63 L394.61,154.69 L395.44,153.75 L396.27,152.82 L397.09,151.88 L397.92,150.94 L398.75,150.00 L399.58,149.06 L400.41,148.12 L401.24,147.18 L402.07,146.25 L402.90,145.31 L403.73,144.37 L404.56,143.43 L405.39,142.50 L406.22,141.56 L407.05,140.62 L407.88,139.68 L408.71,138.75 L409.54,137.81 L410.37,136.88 L411.20,135.94 L412.02,135.00 L412.85,134.07 L413.68,133.13 L414.51,132.20 L415.34,131.26 L416.17,130.33 L417.00,129.40 L417.83,128.46 L418.66,127.53 L419.49,126.60 L420.32,125.66 L421.15,124.73 L421.98,123.80 L422.81,122.87 L423.64,121.94 L424.47,121.01 L425.30,120.08 L426.13,119.15 L426.95,118.22 L427.78,117.30 L428.61,116.37 L429.44,115.45 L430.27,114.52 L431.10,113.60 L431.93,112.67 L432.76,111.75 L433.59,110.83 L434.42,109.91 L435.25,108.99 L436.08,108.07 L436.91,107.16 L437.74,106.24 L438.57,105.33 L439.40,104.41 L440.23,103.50 L441.05,102.59 L441.88,101.68 L442.71,100.78 L443.54,99.87 L444.37,98.97 L445.20,98.07 L446.03,97.17 L446.86,96.27 L447.69,95.37 L448.52,94.48 L449.35,93.59 L450.18,92.70 L451.01,91.82 L451.84,90.94 L452.67,90.06 L453.50,89.18 L454.33,88.31 L455.16,87.44 L455.98,86.57 L456.81,85.71 L457.64,84.85 L458.47,83.99 L459.30,83.14 L460.13,82.30 L460.96,81.45 L461.79,80.62 L462.62,79.78 L463.45,78.96 L464.28,78.13 L465.11,77.32 L465.94,76.51 L466.77,75.70 L467.60,74.90 L468.43,74.11 L469.26,73.32 L470.08,72.54 L470.91,71.77 L471.74,71.01 L472.57,70.25 L473.40,69.50 L474.23,68.76 L475.06,68.02 L475.89,67.30 L476.72,66.58 L477.55,65.88 L478.38,65.18 L479.21,64.49 L480.04,63.81 L480.87,63.14 L481.70,62.48 L482.53,61.83 L483.36,61.20 L484.19,60.57 L485.01,59.95 L485.84,59.35 L486.67,58.75 L487.50,58.17 L488.33,57.60 L489.16,57.04 L489.99,56.49 L490.82,55.95 L491.65,55.43 L492.48,54.92 L493.31,54.42 L494.14,53.93 L494.97,53.46 L495.80,52.99 L496.63,52.54 L497.46,52.10 L498.29,51.68 L499.12,51.26 L499.94,50.86 L500.77,50.47 L501.60,50.09 L502.43,49.72 L503.26,49.36 L504.09,49.02 L504.92,48.69 L505.75,48.36 L506.58,48.05 L507.41,47.75 L508.24,47.46 L509.07,47.18 L509.90,46.91 L510.73,46.65 L511.56,46.40 L512.39,46.16 L513.22,45.93 L514.04,45.70 L514.87,45.49 L515.70,45.28 L516.53,45.09 L517.36,44.90 L518.19,44.72 L519.02,44.54 L519.85,44.37 L520.68,44.21 L521.51,44.06 L522.34,43.91 L523.17,43.77 L524.00,43.64 L524.83,43.51 L525.66,43.39 L526.49,43.27 L527.32,43.16 L528.15,43.05 L528.97,42.95 L529.80,42.85 L530.63,42.75 L531.46,42.66 L532.29,42.58 L533.12,42.50 L533.95,42.42 L534.78,42.35 L535.61,42.28 L536.44,42.21 L537.27,42.15 L538.10,42.08 L538.93,42.03 L539.76,41.97 L540.59,41.92 L541.42,41.87 L542.25,41.82 L543.07,41.77 L543.90,41.73 L544.73,41.69 L545.56,41.65 L546.39,41.61 L547.22,41.58 L548.05,41.54 L548.88,41.51 L549.71,41.48 L550.54,41.45 L551.37,41.43 L552.20,41.40 L553.03,41.37 L553.86,41.35 L554.69,41.33 L555.52,41.31 L556.35,41.29 L557.18,41.27 L558.00,41.25 L558.83,41.23 L559.66,41.21 L560.49,41.20 L561.32,41.18 L562.15,41.17 L562.98,41.15 L563.81,41.14 L564.64,41.13 L565.47,41.12 L566.30,41.11 L567.13,41.10 L567.96,41.09 L568.79,41.08 L569.62,41.07 L570.45,41.06 L571.28,41.05 L572.11,41.04 L572.93,41.04 L573.76,41.03 L574.59,41.02 L575.42,41.02 L576.25,41.01 L577.08,41.00 L577.91,41.00 L578.74,40.99 L579.57,40.99 L580.40,40.98 L581.23,40.98 L582.06,40.98 L582.89,40.97 L583.72,40.97 L584.55,40.96 L585.38,40.96 L586.21,40.96 L587.03,40.95 L587.86,40.95 L588.69,40.95 L589.52,40.95 L590.35,40.94 L591.18,40.94 L592.01,40.94 L592.84,40.94 L593.67,40.94 L594.50,40.93 L595.33,40.93 L596.16,40.93 L596.99,40.93 L597.82,40.93 L598.65,40.92 L599.48,40.92 L600.31,40.92 L601.14,40.92 L601.96,40.92 L602.79,40.92 L603.62,40.92 L604.45,40.92 L605.28,40.92 L606.11,40.91 L606.94,40.91 L607.77,40.91 L608.60,40.91" stroke="#107a8e" stroke-width="1.7"/>
<path d="M360.60,193.24 L361.43,192.30 L362.26,191.35 L363.09,190.41 L363.92,189.47 L364.75,188.53 L365.58,187.59 L366.41,186.65 L367.24,185.71 L368.06,184.77 L368.89,183.83 L369.72,182.89 L370.55,181.95 L371.38,181.00 L372.21,180.06 L373.04,179.12 L373.87,178.18 L374.70,177.24 L375.53,176.30 L376.36,175.36 L377.19,174.42 L378.02,173.48 L378.85,172.54 L379.68,171.60 L380.51,170.65 L381.34,169.71 L382.17,168.77 L382.99,167.83 L383.82,166.89 L384.65,165.95 L385.48,165.01 L386.31,164.07 L387.14,163.13 L387.97,162.19 L388.80,161.25 L389.63,160.30 L390.46,159.36 L391.29,158.42 L392.12,157.48 L392.95,156.54 L393.78,155.60 L394.61,154.66 L395.44,153.72 L396.27,152.78 L397.09,151.84 L397.92,150.90 L398.75,149.95 L399.58,149.01 L400.41,148.07 L401.24,147.13 L402.07,146.19 L402.90,145.25 L403.73,144.31 L404.56,143.37 L405.39,142.43 L406.22,141.49 L407.05,140.55 L407.88,139.60 L408.71,138.66 L409.54,137.72 L410.37,136.78 L411.20,135.84 L412.02,134.90 L412.85,133.96 L413.68,133.02 L414.51,132.08 L415.34,131.14 L416.17,130.20 L417.00,129.25 L417.83,128.31 L418.66,127.37 L419.49,126.43 L420.32,125.49 L421.15,124.55 L421.98,123.61 L422.81,122.67 L423.64,121.73 L424.47,120.79 L425.30,119.85 L426.13,118.91 L426.95,117.96 L427.78,117.02 L428.61,116.08 L429.44,115.14 L430.27,114.20 L431.10,113.26 L431.93,112.32 L432.76,111.38 L433.59,110.44 L434.42,109.50 L435.25,108.56 L436.08,107.61 L436.91,106.67 L437.74,105.73 L438.57,104.79 L439.40,103.85 L440.23,102.91 L441.05,101.97 L441.88,101.03 L442.71,100.09 L443.54,99.15 L444.37,98.21 L445.20,97.26 L446.03,96.32 L446.86,95.38 L447.69,94.44 L448.52,93.50 L449.35,92.56 L450.18,91.62 L451.01,90.68 L451.84,89.74 L452.67,88.80 L453.50,87.86 L454.33,86.91 L455.16,85.97 L455.98,85.03 L456.81,84.09 L457.64,83.15 L458.47,82.21 L459.30,81.27 L460.13,80.33 L460.96,79.39 L461.79,78.45 L462.62,77.51 L463.45,76.56 L464.28,75.62 L465.11,74.68 L465.94,73.74 L466.77,72.80 L467.60,71.86 L468.43,70.92 L469.26,69.98 L470.08,69.04 L470.91,68.10 L471.74,67.16 L472.57,66.21 L473.40,65.27 L474.23,64.33 L475.06,63.39 L475.89,62.45 L476.72,61.51 L477.55,60.57 L478.38,59.63 L479.21,58.69 L480.04,57.75 L480.87,56.81 L481.70,55.87 L482.53,54.92 L483.36,53.98 L484.19,53.04 L485.01,52.10 L485.84,51.16 L486.67,50.22 L487.50,49.28 L488.33,48.34 L489.16,47.40 L489.99,46.46 L490.82,45.52 L491.65,44.57 L492.48,43.63 L493.31,42.69 L494.14,41.75 L494.97,40.81 L495.80,39.87 L496.63,38.93 L497.46,37.99 L498.29,37.05 L499.12,36.11 L499.94,35.17 L500.77,34.22 L501.60,33.28 L502.43,32.34 L503.26,31.40 L504.09,30.46 L504.92,29.52 L505.75,28.58 L506.58,27.64 L507.41,26.70 L508.24,25.76 L509.07,24.82 L509.90,23.87 L510.73,22.93 L511.56,21.99 L512.39,21.05 L513.22,20.11 L514.04,19.17 L514.87,18.23 L515.70,17.29 L516.53,16.35 L517.36,15.41 L518.19,14.47 L519.02,13.52 L519.85,12.58 L520.68,11.64 L521.51,10.70 L522.34,9.76 L523.17,8.82 L524.00,7.88 L524.83,6.94 L525.66,6.00 L526.49,5.06 L527.32,4.12 L528.15,3.17 L528.97,2.23 L529.80,1.29" stroke="#f02000" stroke-width="1.8" stroke-dasharray="3.2 1.4"/>
<path d="M360.60,30.05 L361.43,30.05 L362.26,30.05 L363.09,30.05 L363.92,30.05 L364.75,30.05 L365.58,30.05 L366.41,30.05 L367.24,30.05 L368.06,30.05 L368.89,30.05 L369.72,30.05 L370.55,30.05 L371.38,30.05 L372.21,30.05 L373.04,30.05 L373.87,30.05 L374.70,30.06 L375.53,30.06 L376.36,30.06 L377.19,30.06 L378.02,30.06 L378.85,30.06 L379.68,30.06 L380.51,30.06 L381.34,30.06 L382.17,30.06 L382.99,30.06 L383.82,30.06 L384.65,30.06 L385.48,30.06 L386.31,30.06 L387.14,30.06 L387.97,30.06 L388.80,30.06 L389.63,30.06 L390.46,30.06 L391.29,30.07 L392.12,30.07 L392.95,30.07 L393.78,30.07 L394.61,30.07 L395.44,30.07 L396.27,30.07 L397.09,30.07 L397.92,30.07 L398.75,30.08 L399.58,30.08 L400.41,30.08 L401.24,30.08 L402.07,30.08 L402.90,30.08 L403.73,30.08 L404.56,30.09 L405.39,30.09 L406.22,30.09 L407.05,30.09 L407.88,30.09 L408.71,30.10 L409.54,30.10 L410.37,30.10 L411.20,30.10 L412.02,30.10 L412.85,30.11 L413.68,30.11 L414.51,30.11 L415.34,30.12 L416.17,30.12 L417.00,30.12 L417.83,30.13 L418.66,30.13 L419.49,30.13 L420.32,30.14 L421.15,30.14 L421.98,30.15 L422.81,30.15 L423.64,30.16 L424.47,30.16 L425.30,30.17 L426.13,30.17 L426.95,30.18 L427.78,30.19 L428.61,30.19 L429.44,30.20 L430.27,30.21 L431.10,30.21 L431.93,30.22 L432.76,30.23 L433.59,30.24 L434.42,30.25 L435.25,30.26 L436.08,30.26 L436.91,30.28 L437.74,30.29 L438.57,30.30 L439.40,30.31 L440.23,30.32 L441.05,30.33 L441.88,30.35 L442.71,30.36 L443.54,30.37 L444.37,30.39 L445.20,30.41 L446.03,30.42 L446.86,30.44 L447.69,30.46 L448.52,30.48 L449.35,30.50 L450.18,30.52 L451.01,30.54 L451.84,30.56 L452.67,30.58 L453.50,30.61 L454.33,30.63 L455.16,30.66 L455.98,30.68 L456.81,30.71 L457.64,30.74 L458.47,30.77 L459.30,30.81 L460.13,30.84 L460.96,30.87 L461.79,30.91 L462.62,30.95 L463.45,30.99 L464.28,31.03 L465.11,31.07 L465.94,31.11 L466.77,31.16 L467.60,31.20 L468.43,31.25 L469.26,31.30 L470.08,31.35 L470.91,31.41 L471.74,31.46 L472.57,31.52 L473.40,31.58 L474.23,31.64 L475.06,31.71 L475.89,31.77 L476.72,31.84 L477.55,31.91 L478.38,31.98 L479.21,32.05 L480.04,32.13 L480.87,32.21 L481.70,32.29 L482.53,32.37 L483.36,32.45 L484.19,32.54 L485.01,32.63 L485.84,32.72 L486.67,32.81 L487.50,32.90 L488.33,33.00 L489.16,33.10 L489.99,33.20 L490.82,33.30 L491.65,33.40 L492.48,33.51 L493.31,33.62 L494.14,33.73 L494.97,33.84 L495.80,33.95 L496.63,34.06 L497.46,34.18 L498.29,34.29 L499.12,34.41 L499.94,34.53 L500.77,34.65 L501.60,34.77 L502.43,34.89 L503.26,35.01 L504.09,35.13 L504.92,35.25 L505.75,35.37 L506.58,35.49 L507.41,35.62 L508.24,35.74 L509.07,35.86 L509.90,35.98 L510.73,36.10 L511.56,36.22 L512.39,36.34 L513.22,36.46 L514.04,36.58 L514.87,36.69 L515.70,36.81 L516.53,36.92 L517.36,37.03 L518.19,37.15 L519.02,37.26 L519.85,37.36 L520.68,37.47 L521.51,37.58 L522.34,37.68 L523.17,37.78 L524.00,37.88 L524.83,37.98 L525.66,38.07 L526.49,38.17 L527.32,38.26 L528.15,38.35 L528.97,38.44 L529.80,38.52 L530.63,38.61 L531.46,38.69 L532.29,38.77 L533.12,38.84 L533.95,38.92 L534.78,38.99 L535.61,39.06 L536.44,39.13 L537.27,39.20 L538.10,39.26 L538.93,39.32 L539.76,39.39 L540.59,39.44 L541.42,39.50 L542.25,39.56 L543.07,39.61 L543.90,39.66 L544.73,39.71 L545.56,39.76 L546.39,39.80 L547.22,39.85 L548.05,39.89 L548.88,39.93 L549.71,39.97 L550.54,40.01 L551.37,40.05 L552.20,40.08 L553.03,40.12 L553.86,40.15 L554.69,40.18 L555.52,40.21 L556.35,40.24 L557.18,40.27 L558.00,40.30 L558.83,40.32 L559.66,40.35 L560.49,40.37 L561.32,40.39 L562.15,40.42 L562.98,40.44 L563.81,40.46 L564.64,40.48 L565.47,40.49 L566.30,40.51 L567.13,40.53 L567.96,40.54 L568.79,40.56 L569.62,40.58 L570.45,40.59 L571.28,40.60 L572.11,40.62 L572.93,40.63 L573.76,40.64 L574.59,40.65 L575.42,40.66 L576.25,40.67 L577.08,40.68 L577.91,40.69 L578.74,40.70 L579.57,40.71 L580.40,40.72 L581.23,40.73 L582.06,40.73 L582.89,40.74 L583.72,40.75 L584.55,40.76 L585.38,40.76 L586.21,40.77 L587.03,40.77 L587.86,40.78 L588.69,40.78 L589.52,40.79 L590.35,40.79 L591.18,40.80 L592.01,40.80 L592.84,40.81 L593.67,40.81 L594.50,40.82 L595.33,40.82 L596.16,40.82 L596.99,40.83 L597.82,40.83 L598.65,40.83 L599.48,40.84 L600.31,40.84 L601.14,40.84 L601.96,40.84 L602.79,40.85 L603.62,40.85 L604.45,40.85 L605.28,40.85 L606.11,40.85 L606.94,40.86 L607.77,40.86 L608.60,40.86" stroke="#7f7c86" stroke-width="1.7"/>
<path d="M360.50,40.90 L602.50,40.90" stroke="#f02000" stroke-width="1.8" stroke-dasharray="5.6 1.3 1.2 0.85" stroke-dashoffset="3.95"/>
<path d="M495.1,4.5 L495.1,215.5" stroke="#111" stroke-width="2" stroke-dasharray="1.05 1.1"/>
</g>
<g fill="none" stroke="#999" stroke-width="1">
<rect x="50.5" y="4.5" width="241.0" height="211.0"/>
<rect x="360.5" y="4.5" width="242.0" height="211.0"/>
</g>
<g fill="none" stroke="#555" stroke-width="0.8">
<path d="M48.7,8.00 H50.5"/>
<path d="M48.7,38.32 H50.5"/>
<path d="M48.7,68.64 H50.5"/>
<path d="M48.7,98.96 H50.5"/>
<path d="M48.7,129.28 H50.5"/>
<path d="M48.7,159.60 H50.5"/>
<path d="M48.7,189.92 H50.5"/>
<path d="M83.40,215.5 V217.6"/>
<path d="M127.20,215.5 V217.6"/>
<path d="M171.00,215.5 V217.6"/>
<path d="M214.80,215.5 V217.6"/>
<path d="M258.60,215.5 V217.6"/>
<path d="M358.3,4.50 H360.5"/>
<path d="M358.3,39.67 H360.5"/>
<path d="M358.3,74.83 H360.5"/>
<path d="M358.3,110.00 H360.5"/>
<path d="M358.3,145.16 H360.5"/>
<path d="M358.3,180.33 H360.5"/>
<path d="M358.3,215.50 H360.5"/>
<path d="M360.60,215.5 V217.6"/>
<path d="M422.60,215.5 V217.6"/>
<path d="M484.60,215.5 V217.6"/>
<path d="M546.60,215.5 V217.6"/>
<path d="M379.26,215.5 V216.8"/>
<path d="M390.18,215.5 V216.8"/>
<path d="M397.93,215.5 V216.8"/>
<path d="M403.94,215.5 V216.8"/>
<path d="M408.85,215.5 V216.8"/>
<path d="M413.00,215.5 V216.8"/>
<path d="M416.59,215.5 V216.8"/>
<path d="M419.76,215.5 V216.8"/>
<path d="M441.26,215.5 V216.8"/>
<path d="M452.18,215.5 V216.8"/>
<path d="M459.93,215.5 V216.8"/>
<path d="M465.94,215.5 V216.8"/>
<path d="M470.85,215.5 V216.8"/>
<path d="M475.00,215.5 V216.8"/>
<path d="M478.59,215.5 V216.8"/>
<path d="M481.76,215.5 V216.8"/>
<path d="M503.26,215.5 V216.8"/>
<path d="M514.18,215.5 V216.8"/>
<path d="M521.93,215.5 V216.8"/>
<path d="M527.94,215.5 V216.8"/>
<path d="M532.85,215.5 V216.8"/>
<path d="M537.00,215.5 V216.8"/>
<path d="M540.59,215.5 V216.8"/>
<path d="M543.76,215.5 V216.8"/>
<path d="M565.26,215.5 V216.8"/>
<path d="M576.18,215.5 V216.8"/>
<path d="M583.93,215.5 V216.8"/>
<path d="M589.94,215.5 V216.8"/>
<path d="M594.85,215.5 V216.8"/>
<path d="M599.00,215.5 V216.8"/>
</g>
<g class="serif" font-size="10.2" fill="#000">
<text x="46.8" y="12.30" text-anchor="end">10<tspan font-size="7.4" dy="-2.9">−2</tspan></text>
<text x="46.8" y="42.62" text-anchor="end">10<tspan font-size="7.4" dy="-2.9">−6</tspan></text>
<text x="46.8" y="72.94" text-anchor="end">10<tspan font-size="7.4" dy="-2.9">−10</tspan></text>
<text x="46.8" y="103.26" text-anchor="end">10<tspan font-size="7.4" dy="-2.9">−14</tspan></text>
<text x="46.8" y="133.58" text-anchor="end">10<tspan font-size="7.4" dy="-2.9">−18</tspan></text>
<text x="46.8" y="163.90" text-anchor="end">10<tspan font-size="7.4" dy="-2.9">−22</tspan></text>
<text x="46.8" y="194.22" text-anchor="end">10<tspan font-size="7.4" dy="-2.9">−26</tspan></text>
<text x="83.40" y="227.2" text-anchor="middle">10<tspan font-size="7.4" dy="-2.9">−4</tspan></text>
<text x="127.20" y="227.2" text-anchor="middle">10<tspan font-size="7.4" dy="-2.9">−2</tspan></text>
<text x="171.00" y="227.2" text-anchor="middle">10<tspan font-size="7.4" dy="-2.9">0</tspan></text>
<text x="214.80" y="227.2" text-anchor="middle">10<tspan font-size="7.4" dy="-2.9">2</tspan></text>
<text x="258.60" y="227.2" text-anchor="middle">10<tspan font-size="7.4" dy="-2.9">4</tspan></text>
<text x="356.3" y="8.80" text-anchor="end">10<tspan font-size="7.4" dy="-2.9">−3</tspan></text>
<text x="356.3" y="43.97" text-anchor="end">10<tspan font-size="7.4" dy="-2.9">−5</tspan></text>
<text x="356.3" y="79.13" text-anchor="end">10<tspan font-size="7.4" dy="-2.9">−7</tspan></text>
<text x="356.3" y="114.30" text-anchor="end">10<tspan font-size="7.4" dy="-2.9">−9</tspan></text>
<text x="356.3" y="149.46" text-anchor="end">10<tspan font-size="7.4" dy="-2.9">−11</tspan></text>
<text x="356.3" y="184.63" text-anchor="end">10<tspan font-size="7.4" dy="-2.9">−13</tspan></text>
<text x="356.3" y="219.80" text-anchor="end">10<tspan font-size="7.4" dy="-2.9">−15</tspan></text>
<text x="360.60" y="227.2" text-anchor="middle">10<tspan font-size="7.4" dy="-2.9">−1</tspan></text>
<text x="422.60" y="227.2" text-anchor="middle">10<tspan font-size="7.4" dy="-2.9">0</tspan></text>
<text x="484.60" y="227.2" text-anchor="middle">10<tspan font-size="7.4" dy="-2.9">1</tspan></text>
<text x="546.60" y="227.2" text-anchor="middle">10<tspan font-size="7.4" dy="-2.9">2</tspan></text>
</g>
<g class="serif" font-style="italic" font-size="11" fill="#111">
<text transform="translate(19.8,110.3) rotate(-90)" text-anchor="middle" font-size="14" letter-spacing="1.3">IPR</text>
<text transform="translate(330.3,109.5) rotate(-90)" text-anchor="middle" font-size="14" letter-spacing="1.3">IPR</text>
<text transform="translate(171.3,238.2) skewX(-10)" text-anchor="middle" font-size="13.5">p</text>
<text transform="translate(482.3,238.2) skewX(-10)" text-anchor="middle" font-size="13.5">p</text>
</g>
<!-- legend A -->
<rect x="112.5" y="153.5" width="176" height="52" fill="#fff"/>
<g stroke="#505050" stroke-width="1" stroke-dasharray="1 1" fill="none">
<path d="M112,153.5 H289"/><path d="M112,205.5 H289"/><path d="M112.5,153 V206"/><path d="M288.5,153 V206"/>
</g>
<g stroke-width="2">
<path d="M118.3,160.8 H133" stroke="#111"/>
<path d="M118.3,173.6 H133" stroke="#808080"/>
<path d="M118.3,185.6 H133" stroke="#f02000"/>
<path d="M118.3,197.6 H133" stroke="#1a93a3"/>
</g>
<g class="serif" font-size="8.8" fill="#222">
<text x="138.3" y="164.0" textLength="133.5" lengthAdjust="spacing"><tspan font-style="italic">N</tspan> = 10<tspan font-size="5.8" dy="-3">3</tspan><tspan dy="3">, </tspan><tspan font-style="italic">ER</tspan> (<tspan font-size="7.6">⟨</tspan><tspan font-style="italic">k</tspan><tspan font-size="7.6">⟩</tspan> = 10) + <tspan font-style="italic">ER</tspan> (<tspan font-size="7.6">⟨</tspan><tspan font-style="italic">k</tspan><tspan font-size="7.6">⟩</tspan> = 10)</text>
<text x="138.3" y="176.3" textLength="147.8" lengthAdjust="spacing"><tspan font-style="italic">N</tspan> = 3 × 10<tspan font-size="5.8" dy="-3">4</tspan><tspan dy="3">, </tspan><tspan font-style="italic">ER</tspan> (<tspan font-size="7.6">⟨</tspan><tspan font-style="italic">k</tspan><tspan font-size="7.6">⟩</tspan> = 10) + <tspan font-style="italic">ER</tspan> (<tspan font-size="7.6">⟨</tspan><tspan font-style="italic">k</tspan><tspan font-size="7.6">⟩</tspan> = 10)</text>
<text x="138.3" y="189.0" textLength="134.4" lengthAdjust="spacing"><tspan font-style="italic">N</tspan> = 10<tspan font-size="5.8" dy="-3">3</tspan><tspan dy="3">, </tspan><tspan font-style="italic">ER</tspan> (<tspan font-size="7.6">⟨</tspan><tspan font-style="italic">k</tspan><tspan font-size="7.6">⟩</tspan> = 20) + <tspan font-style="italic">PL</tspan>(<tspan font-style="italic">γ</tspan> = 2.25)</text>
<text x="138.3" y="201.1" textLength="147.8" lengthAdjust="spacing"><tspan font-style="italic">N</tspan> = 3 × 10<tspan font-size="5.8" dy="-3">4</tspan><tspan dy="3">, </tspan><tspan font-style="italic">ER</tspan> (<tspan font-size="7.6">⟨</tspan><tspan font-style="italic">k</tspan><tspan font-size="7.6">⟩</tspan> = 20) + <tspan font-style="italic">PL</tspan>(<tspan font-style="italic">γ</tspan> = 2.25)</text>
</g>
<!-- legend B -->
<path d="M519.5,151.5 H584.5 L595.5,160 V210 Q595.5,212 593.5,212 H519.5 Q517.5,212 517.5,210 V153.5 Q517.5,151.5 519.5,151.5 Z" fill="#f4f9f4" stroke="#c8c8c8" stroke-width="1"/>
<g stroke-width="2" fill="none">
<path d="M522,160 H540" stroke="#107a8e"/>
<path d="M523.2,171.5 H539.2" stroke="#f02000" stroke-dasharray="2.9 1.5"/>
<path d="M522,182.8 H540" stroke="#7f7c86"/>
<path d="M523,193.6 H540" stroke="#f02000" stroke-dasharray="5.6 1.3 1.2 0.85"/>
<path d="M523,204.8 H539" stroke="#333" stroke-width="1.7" stroke-dasharray="1.05 1.1"/>
</g>
<g class="serif" font-size="11" fill="#111">
<text x="545" y="162.2"><tspan font-style="italic" letter-spacing="1">IPR</tspan><tspan font-style="italic" font-size="7.7" dy="2.3">NDL</tspan></text>
<text y="174.4"><tspan x="545" font-style="italic">α</tspan><tspan x="550.8">log(</tspan><tspan x="567.4" font-style="italic">p</tspan><tspan x="573.4">)</tspan><tspan x="576.6" fill="#555">+</tspan><tspan x="583.2" font-style="italic" font-size="11.5">c</tspan><tspan x="588.6" font-size="8.4" dy="2.4">1</tspan></text>
<text x="545" y="185"><tspan font-style="italic" letter-spacing="0.6">IPR</tspan><tspan font-style="italic" font-size="7.5" dy="2.5">DL</tspan></text>
<text x="545" y="196" font-size="11.3"><tspan font-style="italic">c</tspan><tspan font-size="7.2" dx="0.3" dy="1.2">2</tspan></text>
<text x="544.5" y="207.8" font-size="11.5"><tspan font-style="italic">p</tspan><tspan font-size="11" dx="0.2" dy="1.8">*</tspan></text>
</g>
</svg>
</body></html>
